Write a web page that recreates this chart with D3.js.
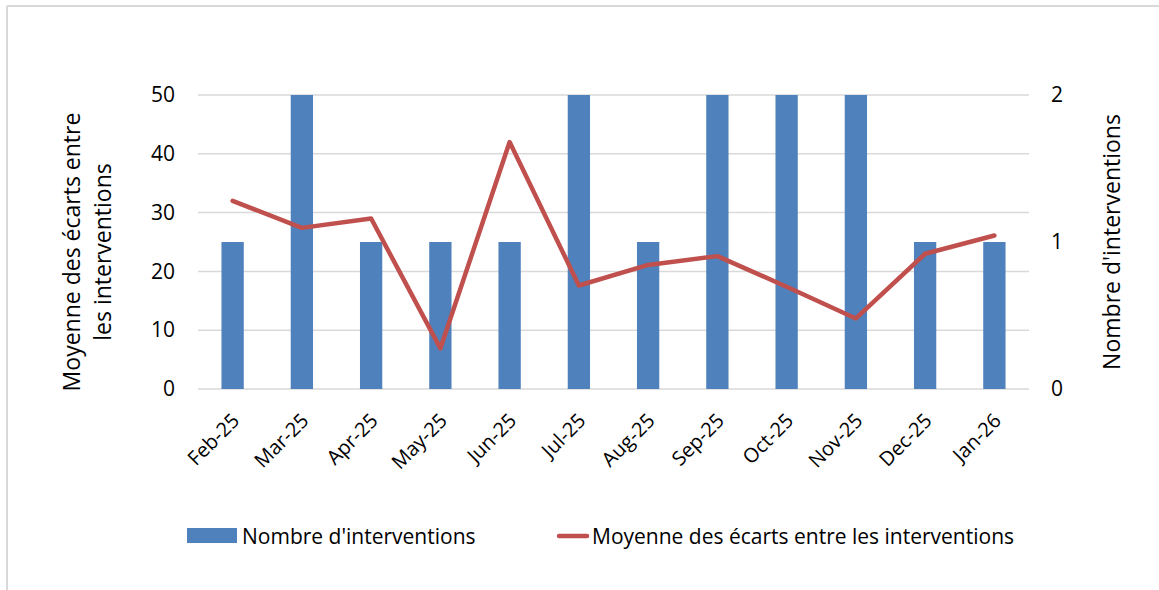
<!DOCTYPE html>
<html>
<head>
<meta charset="utf-8">
<script src="https://cdn.jsdelivr.net/npm/d3@7"></script>
<style>
  html, body { margin: 0; padding: 0; background: #fff; }
  svg { display: block; font-family: "Open Sans", Lato, sans-serif; }
</style>
</head>
<body>
<svg id="chart" width="1159" height="590"></svg>
<script>
const categories = ["Feb-25","Mar-25","Apr-25","May-25","Jun-25","Jul-25","Aug-25","Sep-25","Oct-25","Nov-25","Dec-25","Jan-26"];
const interventions = [1, 2, 1, 1, 1, 2, 1, 2, 2, 2, 1, 1];
const moyenneEcarts = [32.0, 27.4, 29.0, 6.9, 42.0, 17.6, 21.1, 22.6, 17.4, 12.0, 23.0, 26.1];
const leftTicks = [0, 10, 20, 30, 40, 50];
const rightTicks = [0, 1, 2];
const seriesNames = ["Nombre d'interventions", "Moyenne des écarts entre les interventions"];
const leftTitle = ["Moyenne des écarts entre", "les interventions"];
const rightTitle = "Nombre d'interventions";

const svg = d3.select("#chart");
const W = 1159, H = 590;
const plot = {left: 198, right: 1029, top: 95, bottom: 389};
const blue = "#4F81BD", red = "#C0504D", grid = "#D9D9D9", textColor = "#000";
const FONT = "'Open Sans', Lato, sans-serif";

// outer frame (top and left only visible)
svg.append("line").attr("x1", 7).attr("x2", W).attr("y1", 6).attr("y2", 6).attr("stroke", grid).attr("stroke-width", 2);
svg.append("line").attr("x1", 7).attr("x2", 7).attr("y1", 6).attr("y2", H).attr("stroke", grid).attr("stroke-width", 2);

const x = d3.scaleBand().domain(categories).range([plot.left, plot.right]).paddingInner(0.678).paddingOuter(0.339);
const yL = d3.scaleLinear().domain([0, 50]).range([plot.bottom, plot.top]);
const yR = d3.scaleLinear().domain([0, 2]).range([plot.bottom, plot.top]);

// gridlines
svg.append("g").selectAll("line").data(leftTicks).join("line")
  .attr("x1", plot.left).attr("x2", plot.right)
  .attr("y1", d => yL(d)).attr("y2", d => yL(d))
  .attr("stroke", grid).attr("stroke-width", 1.5);

// left axis
const gL = svg.append("g").attr("transform", `translate(${plot.left},0)`)
  .call(d3.axisLeft(yL).tickValues(leftTicks).tickSize(0).tickPadding(23));
gL.select(".domain").remove();
gL.selectAll("text").attr("font-size", 21).attr("fill", textColor).attr("font-family", FONT);

// right axis
const gR = svg.append("g").attr("transform", `translate(${plot.right},0)`)
  .call(d3.axisRight(yR).tickValues(rightTicks).tickFormat(d3.format("d")).tickSize(0).tickPadding(22));
gR.select(".domain").remove();
gR.selectAll("text").attr("font-size", 21).attr("fill", textColor).attr("font-family", FONT);

// bars
svg.append("g").selectAll("rect").data(categories).join("rect")
  .attr("x", d => x(d)).attr("width", x.bandwidth())
  .attr("y", (d, i) => yR(interventions[i]))
  .attr("height", (d, i) => yR(0) - yR(interventions[i]))
  .attr("fill", blue);

// line
const line = d3.line().x((d, i) => x(categories[i]) + x.bandwidth() / 2).y(d => yL(d));
svg.append("path").datum(moyenneEcarts).attr("d", line)
  .attr("fill", "none").attr("stroke", red).attr("stroke-width", 4.5)
  .attr("stroke-linejoin", "round").attr("stroke-linecap", "round");

// x axis labels
const gX = svg.append("g").attr("transform", `translate(0,${plot.bottom})`)
  .call(d3.axisBottom(x).tickSize(0).tickPadding(0));
gX.select(".domain").remove();
gX.selectAll("text")
  .attr("font-size", 20).attr("fill", textColor).attr("font-family", FONT)
  .attr("text-anchor", "end").attr("dy", 0).attr("y", 0).attr("x", 0)
  .attr("transform", "translate(8,33) rotate(-45)");

// axis titles
const lt = svg.append("text").attr("font-size", 23).attr("fill", textColor)
  .attr("text-anchor", "middle").attr("transform", "translate(80,252) rotate(-90)");
lt.append("tspan").attr("x", 0).attr("dy", 0).text(leftTitle[0]);
lt.append("tspan").attr("x", 0).attr("dy", 31).text(leftTitle[1]);

svg.append("text").attr("font-size", 23).attr("fill", textColor)
  .attr("text-anchor", "middle").attr("transform", "translate(1120,242) rotate(-90)")
  .text(rightTitle);

// legend
const lg = svg.append("g");
lg.append("rect").attr("x", 187).attr("y", 528).attr("width", 50).attr("height", 15).attr("fill", blue);
lg.append("text").attr("x", 242).attr("y", 544).attr("font-size", 21).attr("fill", textColor).text(seriesNames[0]);
lg.append("line").attr("x1", 559).attr("x2", 587).attr("y1", 536).attr("y2", 536)
  .attr("stroke", red).attr("stroke-width", 4.5).attr("stroke-linecap", "round");
lg.append("text").attr("x", 592).attr("y", 544).attr("font-size", 21).attr("fill", textColor).text(seriesNames[1]);
</script>
</body>
</html>
